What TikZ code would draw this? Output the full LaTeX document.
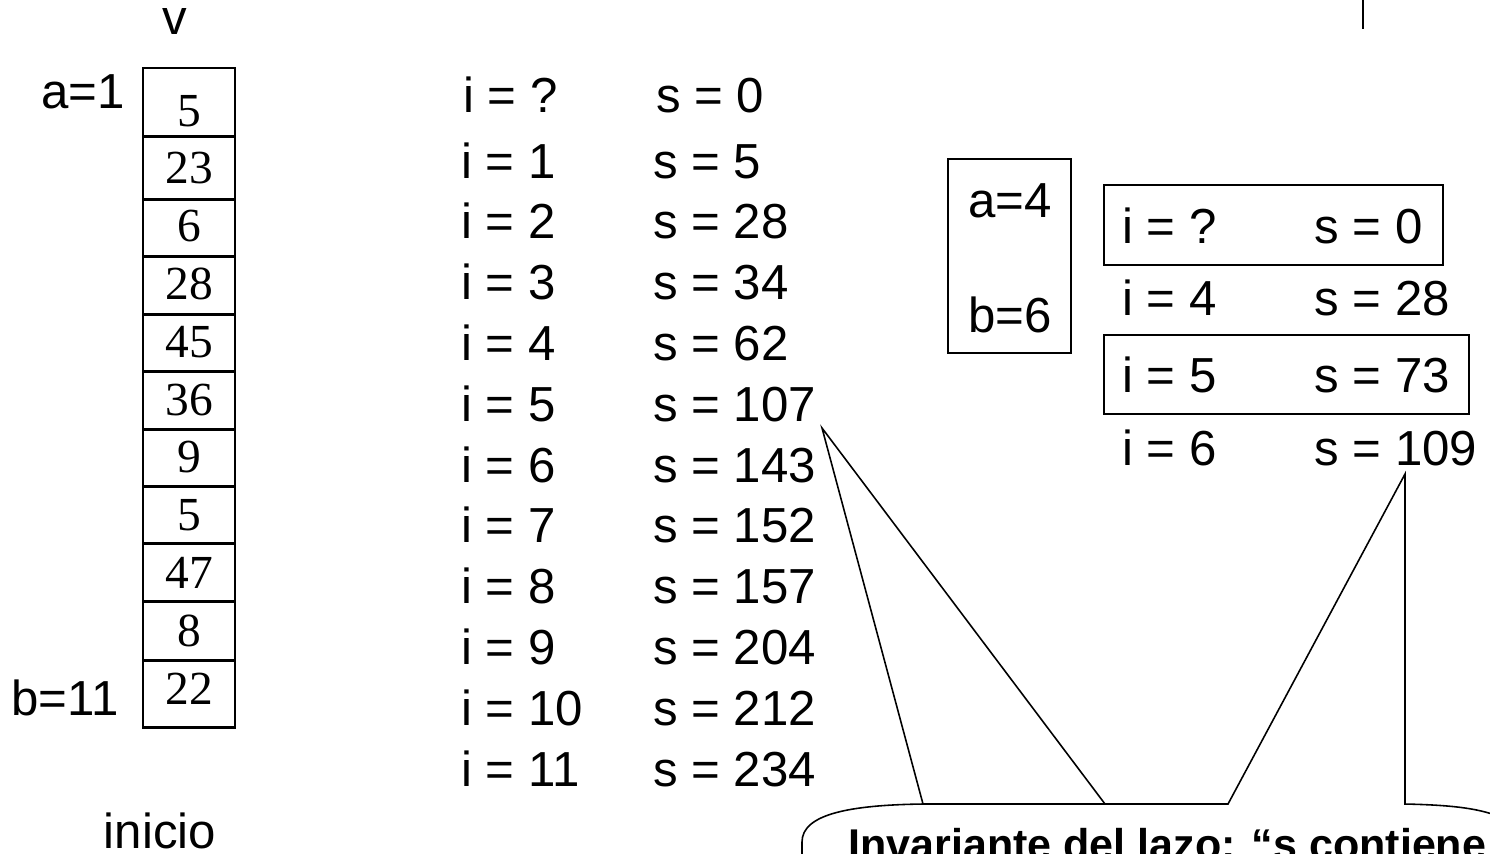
\documentclass[tikz,border=0pt]{standalone}
\usepackage{fontspec}
\setmainfont{Liberation Sans}
\newfontfamily\tnr{Liberation Serif}
\begin{document}
\begin{tikzpicture}[x=0.02cm,y=-0.02cm,
  txt/.style={font=\fontsize{28}{28}\selectfont, inner sep=0pt, anchor=base west},
  ctxt/.style={txt, anchor=base},
  num/.style={font=\tnr\fontsize{27}{27}\selectfont, inner sep=0pt, anchor=base},
  arr/.style={line width=1.7pt},
  thin/.style={line width=0.9pt}]
\useasboundingbox (0,0) rectangle (1490,853);
\clip (0,0) rectangle (1490,853);

% top-right mark
\coordinate (m1) at (1363,0);
\coordinate (m2) at (1363,29);
\draw[thin] (m1) -- (m2);

% vector
\node[ctxt] (v) at (175,34) {v};
\node[txt] (a1) at (41,108) {a=1};
\node[txt] (b11) at (11,715) {b=11};
\node[ctxt] (inicio) at (160,848) {inicio};

\draw[arr] (143,68) rectangle (235,727);
\foreach \yy in {136,199,256,314,371,429,486,543,601,660}
  \draw[arr] (143,\yy) -- (235,\yy);
\foreach \val [count=\k from 0] in {5,23,6,28,45,36,9,5,47,8,22}
  \node[num] (c\k) at (189,{126+57.8*\k}) {\val};

% trace column
\node[txt] (i0) at (463,112) {i = ?};
\node[txt] (s0) at (656,112) {s = 0};
\foreach \sv [count=\k] in {5,28,34,62,107,143,152,157,204,212,234} {
  \node[txt] (i\k) at (461,{178+60.8*(\k-1)}) {i = \k};
  \node[txt] (s\k) at (653,{178+60.8*(\k-1)}) {s = \sv};
}

% right part
\draw[thin] (948,159) rectangle (1071,353);
\node[ctxt] (a4) at (1010,217) {a=4};
\node[ctxt] (b6) at (1010,332) {b=6};

\draw[thin] (1104,185) rectangle (1443,265);
\draw[thin] (1104,335) rectangle (1469,414);
\node[txt] (ri0) at (1122,243) {i = ?};
\node[txt] (rs0) at (1314,243) {s = 0};
\node[txt] (ri4) at (1122,315) {i = 4};
\node[txt] (rs4) at (1314,315) {s = 28};
\node[txt] (ri5) at (1122,392) {i = 5};
\node[txt] (rs5) at (1314,392) {s = 73};
\node[txt] (ri6) at (1122,465) {i = 6};
\node[txt] (rs6) at (1314,465) {s = 109};

% callout
\coordinate (apL) at (822,428);
\coordinate (apR) at (1405,474);
\coordinate (bL1) at (923,804);
\coordinate (bL2) at (1105,804);
\coordinate (bR1) at (1228,804);
\coordinate (bR2) at (1405,804);
\draw[thin] (802,860) -- (802,842) .. controls (802,814) and (850,805) .. (bL1)
  -- (bR1) -- (apR) -- (bR2) .. controls (1450,805) and (1475,808) .. (1495,815);
\draw[thin] (bL1) -- (apL) -- (bL2);
\node[txt, font=\bfseries\fontsize{24.5}{24.5}\selectfont] (inv) at (848,859) {Invariante del lazo: “s contiene};
\end{tikzpicture}
\end{document}
